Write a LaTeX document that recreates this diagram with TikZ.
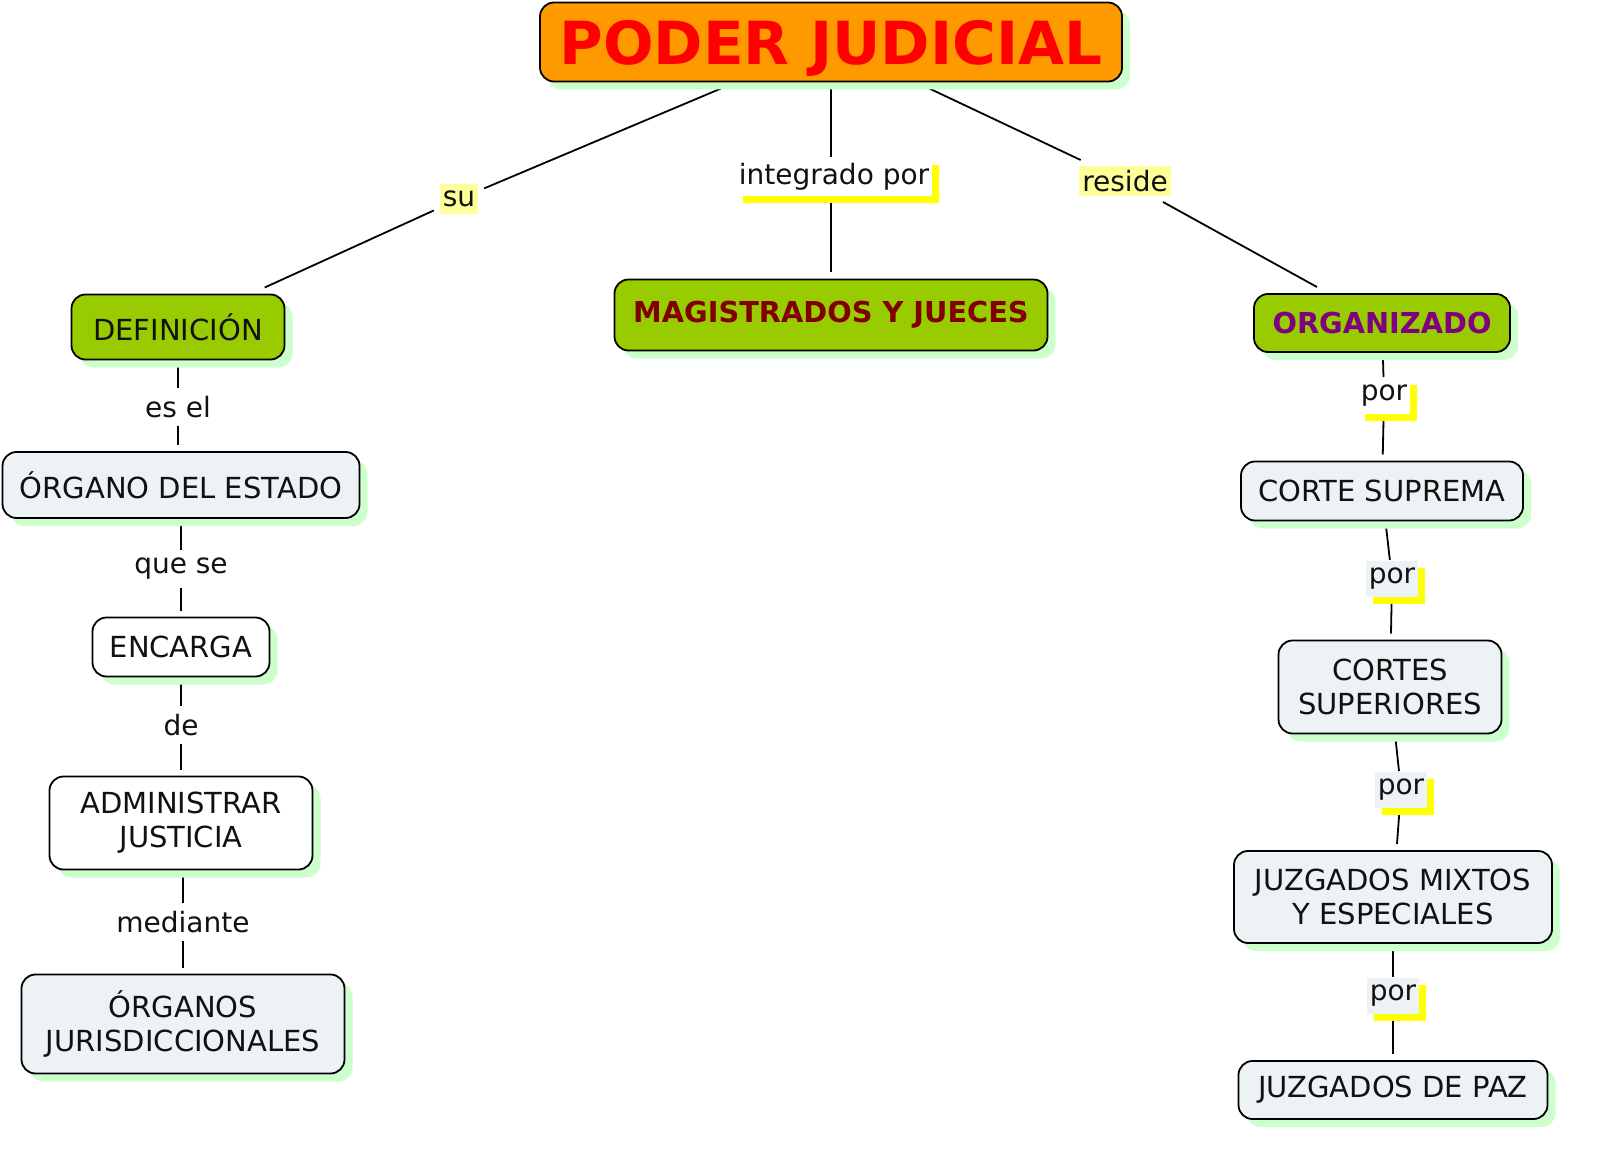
\documentclass[tikz,border=0pt]{standalone}
\usepackage{fontspec}
\setmainfont{DejaVu Sans}
\usetikzlibrary{shadows,backgrounds}
\definecolor{ora}{HTML}{FF9900}
\definecolor{grn}{HTML}{99CC00}
\definecolor{lite}{HTML}{EDF2F5}
\definecolor{shgreen}{HTML}{CCFFCC}
\definecolor{paleyel}{HTML}{FFFF99}
\definecolor{yel}{HTML}{FFFF00}
\definecolor{dred}{HTML}{800000}
\definecolor{purp}{HTML}{800080}
\definecolor{txt}{HTML}{111111}
\begin{document}
\begin{tikzpicture}[x=1pt,y=-1pt,
  concept/.style={draw=black, line width=1.8pt, rounded corners=14pt, align=center,
    inner sep=0pt, outer sep=7pt, text=txt, font=\fontsize{29}{34}\selectfont,
    general shadow={fill=shgreen, shadow xshift=8pt, shadow yshift=-8pt}},
  boldtxt/.style={font=\fontsize{28.8}{34}\selectfont\bfseries},
  lab/.style={inner xsep=3pt, inner ysep=2pt, minimum height=36pt, outer sep=1pt,
    text=txt, font=\fontsize{28}{34}\selectfont},
  yshad/.style={general shadow={fill=yel, shadow xshift=7pt, shadow yshift=-7pt}},
  conn/.style={draw=black, line width=1.8pt}]
\useasboundingbox (0,0) rectangle (1600,1158);

% concepts
\node[concept, fill=ora, minimum width=582pt, minimum height=79pt, text=red, text depth=0pt,
  font=\fontsize{59.5}{60}\selectfont\bfseries] (poder) at (831,42) {PODER JUDICIAL};
\node[concept, fill=grn, minimum width=213pt, minimum height=65pt] (def) at (178,327) {DEFINICIÓN};
\node[concept, fill=grn, minimum width=433pt, minimum height=71pt, text=dred, boldtxt] (mag) at (831,315) {MAGISTRADOS Y JUECES};
\node[concept, fill=grn, minimum width=256pt, minimum height=58pt, text=purp, boldtxt] (org) at (1382,323) {ORGANIZADO};
\node[concept, fill=lite, minimum width=357pt, minimum height=66pt] (organo) at (181,485) {ÓRGANO DEL ESTADO};
\node[concept, fill=white, minimum width=177pt, minimum height=59pt] (enc) at (181,647) {ENCARGA};
\node[concept, fill=white, minimum width=263pt, minimum height=93pt] (adm) at (181,823) {ADMINISTRAR\\JUSTICIA};
\node[concept, fill=lite, minimum width=323pt, minimum height=99pt] (jur) at (183,1024) {ÓRGANOS\\JURISDICCIONALES};
\node[concept, fill=lite, minimum width=282pt, minimum height=59pt] (cs) at (1382,491) {CORTE SUPREMA};
\node[concept, fill=lite, minimum width=223pt, minimum height=93pt] (csup) at (1390,687) {CORTES\\SUPERIORES};
\node[concept, fill=lite, minimum width=318pt, minimum height=92pt] (jmix) at (1393,897) {JUZGADOS MIXTOS\\Y ESPECIALES};
\node[concept, fill=lite, minimum width=309pt, minimum height=58pt] (jpaz) at (1393,1090) {JUZGADOS DE PAZ};

% linking phrases
\node[lab, fill=paleyel, minimum height=30pt, inner ysep=0pt, outer sep=6pt] (su) at (459,199) {su};
\node[lab, fill=white, yshad, minimum height=38pt] (integ) at (834,177) {integrado por};
\node[lab, fill=paleyel, minimum height=30pt, inner ysep=0pt, outer sep=6pt] (res) at (1125,181) {reside};
\node[lab, fill=white] (esel) at (178,407) {es el};
\node[lab, fill=white] (quese) at (181,569) {que se};
\node[lab, fill=white] (de) at (181,725) {de};
\node[lab, fill=white] (med) at (183,922) {mediante};
\node[lab, fill=white, yshad] (por1) at (1384,396) {por};
\node[lab, fill=lite, yshad] (por2) at (1392,579) {por};
\node[lab, fill=lite, yshad] (por3) at (1401,790) {por};
\node[lab, fill=lite, yshad] (por4) at (1393,996) {por};

\begin{scope}[on background layer]
\fill[white] (0,0) rectangle (1600,1158);
\draw[conn] (poder) -- (su);
\draw[conn] (su) -- (def);
\draw[conn] (poder.south -| poder.center) -- (integ.north -| poder.center);
\draw[conn] (integ.south -| poder.center) -- (mag.north -| poder.center);
\draw[conn] (poder) -- (res);
\draw[conn] (res) -- (org);
\draw[conn] (def.south) -- (esel.north -| def.south);
\draw[conn] (esel.south -| def.south) -- (organo.north -| def.south);
\draw[conn] (organo.south) -- (quese.north -| organo.south);
\draw[conn] (quese.south -| organo.south) -- (enc.north -| organo.south);
\draw[conn] (enc.south) -- (de.north -| enc.south);
\draw[conn] (de.south -| enc.south) -- (adm.north -| enc.south);
\draw[conn] (adm.south -| med.center) -- (med.north);
\draw[conn] (med.south) -- (jur.north -| med.center);
\draw[conn] (org) -- (por1);
\draw[conn] (por1) -- (cs);
\draw[conn] (cs) -- (por2);
\draw[conn] (por2) -- (csup);
\draw[conn] (csup) -- (por3);
\draw[conn] (por3) -- (jmix);
\draw[conn] (jmix) -- (por4);
\draw[conn] (por4) -- (jpaz);
\end{scope}
\end{tikzpicture}
\end{document}
